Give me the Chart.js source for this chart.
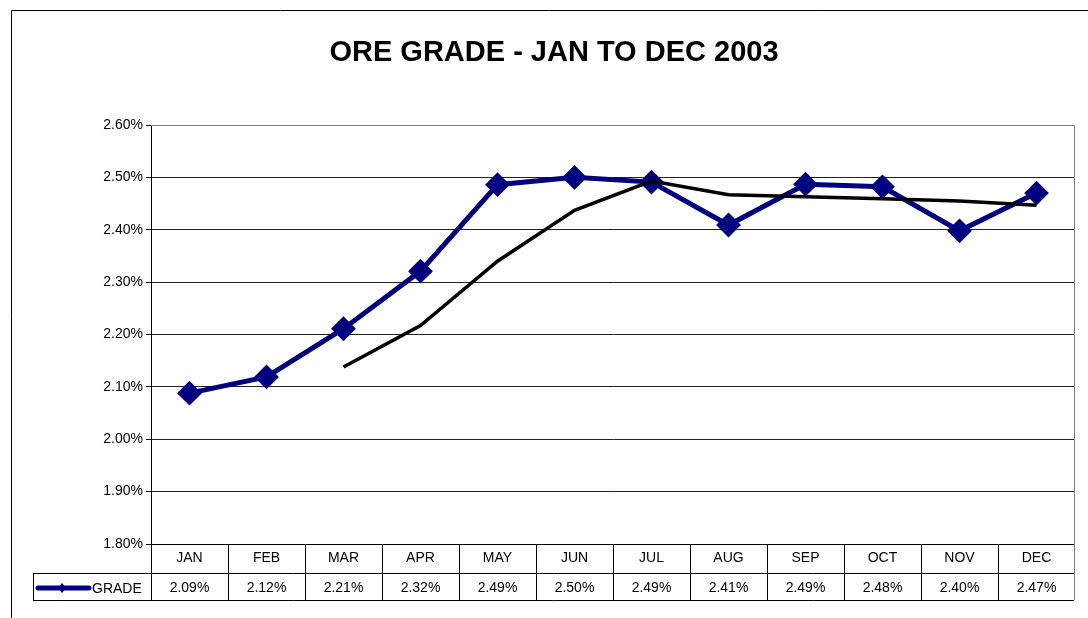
<!DOCTYPE html>
<html>
<head>
<meta charset="utf-8">
<title>Ore Grade 2003</title>
<script src="https://cdn.jsdelivr.net/npm/chart.js@4"></script>
<style>
    html, body { margin: 0; padding: 0; background: #fff; }
    #wrap { width: 1088px; height: 618px; }
</style>
</head>
<body>
<div id="wrap"><canvas id="oreChart" width="1088" height="618"></canvas></div>
<script>
// Chart data
const months = ['JAN', 'FEB', 'MAR', 'APR', 'MAY', 'JUN', 'JUL', 'AUG', 'SEP', 'OCT', 'NOV', 'DEC'];
const grade = [2.088, 2.119, 2.211, 2.321, 2.486, 2.50, 2.491, 2.409, 2.487, 2.482, 2.398, 2.47];
// 3 month moving average line
const movingAvg = [null, null, 2.138, 2.217, 2.34, 2.437, 2.493, 2.467, 2.463, 2.459, 2.455, 2.447];
const yMin = 1.8;
const yMax = 2.6;
const yStep = 0.1;

const font = 'Liberation Sans, Arial, sans-serif';

// Title, outer frame and the data table under the plot
const tablePlugin = {
    id: 'dataTable',
    afterDraw(chart) {
        const { ctx, chartArea: a, scales: { x } } = chart;
        const half = (x.getPixelForValue(1) - x.getPixelForValue(0)) / 2;
        const rowTop = a.bottom, rowMid = 573, rowBottom = 600;

        ctx.save();
        // outer frame
        ctx.strokeStyle = '#000';
        ctx.lineWidth = 1;
        ctx.beginPath();
        ctx.moveTo(11.5, 618);
        ctx.lineTo(11.5, 10.5);
        ctx.lineTo(1088, 10.5);
        ctx.stroke();

        // title
        ctx.fillStyle = '#000';
        ctx.font = 'bold 29px ' + font;
        ctx.textAlign = 'center';
        ctx.textBaseline = 'middle';
        ctx.fillText('ORE GRADE - JAN TO DEC 2003', 554, 53);

        // plot border top/right (gray)
        ctx.strokeStyle = '#808080';
        ctx.beginPath();
        ctx.moveTo(a.left, a.top + 0.5);
        ctx.lineTo(a.right - 0.5, a.top + 0.5);
        ctx.lineTo(a.right - 0.5, rowBottom);
        ctx.stroke();

        // table lines
        ctx.strokeStyle = '#000';
        ctx.beginPath();
        ctx.moveTo(a.left, rowTop + 0.5);
        ctx.lineTo(a.right - 1, rowTop + 0.5);
        ctx.moveTo(33, rowMid + 0.5);
        ctx.lineTo(a.right - 1, rowMid + 0.5);
        ctx.moveTo(33, rowBottom + 0.5);
        ctx.lineTo(a.right - 1, rowBottom + 0.5);
        ctx.moveTo(33.5, rowMid);
        ctx.lineTo(33.5, rowBottom);
        for (let i = 0; i < months.length; i++) {
            const bx = Math.round(x.getPixelForValue(i) - half) + 0.5;
            ctx.moveTo(bx, rowTop);
            ctx.lineTo(bx, rowBottom);
        }
        ctx.stroke();

        // table text
        ctx.font = '14px ' + font;
        ctx.textAlign = 'center';
        months.forEach((m, i) => {
            const cx = x.getPixelForValue(i);
            ctx.fillText(m, cx, 558);
            ctx.fillText(grade[i].toFixed(2) + '%', cx, 588);
        });

        // legend key
        ctx.strokeStyle = '#000080';
        ctx.lineWidth = 5;
        ctx.lineCap = 'round';
        ctx.beginPath();
        ctx.moveTo(38, 588);
        ctx.lineTo(89, 588);
        ctx.stroke();
        ctx.fillStyle = '#000080';
        ctx.beginPath();
        ctx.moveTo(62, 583);
        ctx.lineTo(66, 588);
        ctx.lineTo(62, 593);
        ctx.lineTo(58, 588);
        ctx.closePath();
        ctx.fill();
        ctx.fillStyle = '#000';
        ctx.textAlign = 'left';
        ctx.fillText('GRADE', 92, 589);
        ctx.restore();
    }
};

new Chart(document.getElementById('oreChart'), {
    type: 'line',
    data: {
        labels: months,
        datasets: [
            {
                label: 'GRADE',
                data: grade,
                borderColor: '#000080',
                backgroundColor: '#000080',
                borderWidth: 5,
                pointStyle: 'rectRot',
                pointRadius: 11,
                pointBorderWidth: 2,
                tension: 0,
                order: 1
            },
            {
                label: 'Moving average',
                data: movingAvg,
                borderColor: '#000',
                borderWidth: 3.5,
                pointRadius: 0,
                tension: 0,
                order: 0
            }
        ]
    },
    options: {
        responsive: false,
        animation: false,
        layout: { padding: { left: 0, top: 125, right: 11, bottom: 74 } },
        plugins: {
            legend: { display: false },
            tooltip: { enabled: false }
        },
        scales: {
            x: { display: false, offset: true },
            y: {
                min: yMin,
                max: yMax,
                afterFit(scale) { scale.width = 151; },
                ticks: {
                    stepSize: yStep,
                    padding: 3,
                    color: '#000',
                    font: { family: font, size: 14 },
                    callback: v => v.toFixed(2) + '%'
                },
                grid: {
                    color: ctx => ctx.tick && ctx.tick.value >= yMax - 1e-9 ? '#808080' : '#222',
                    tickLength: 5,
                    tickColor: '#000'
                },
                border: { color: '#000', width: 1 }
            }
        }
    },
    plugins: [tablePlugin]
});
</script>
</body>
</html>
